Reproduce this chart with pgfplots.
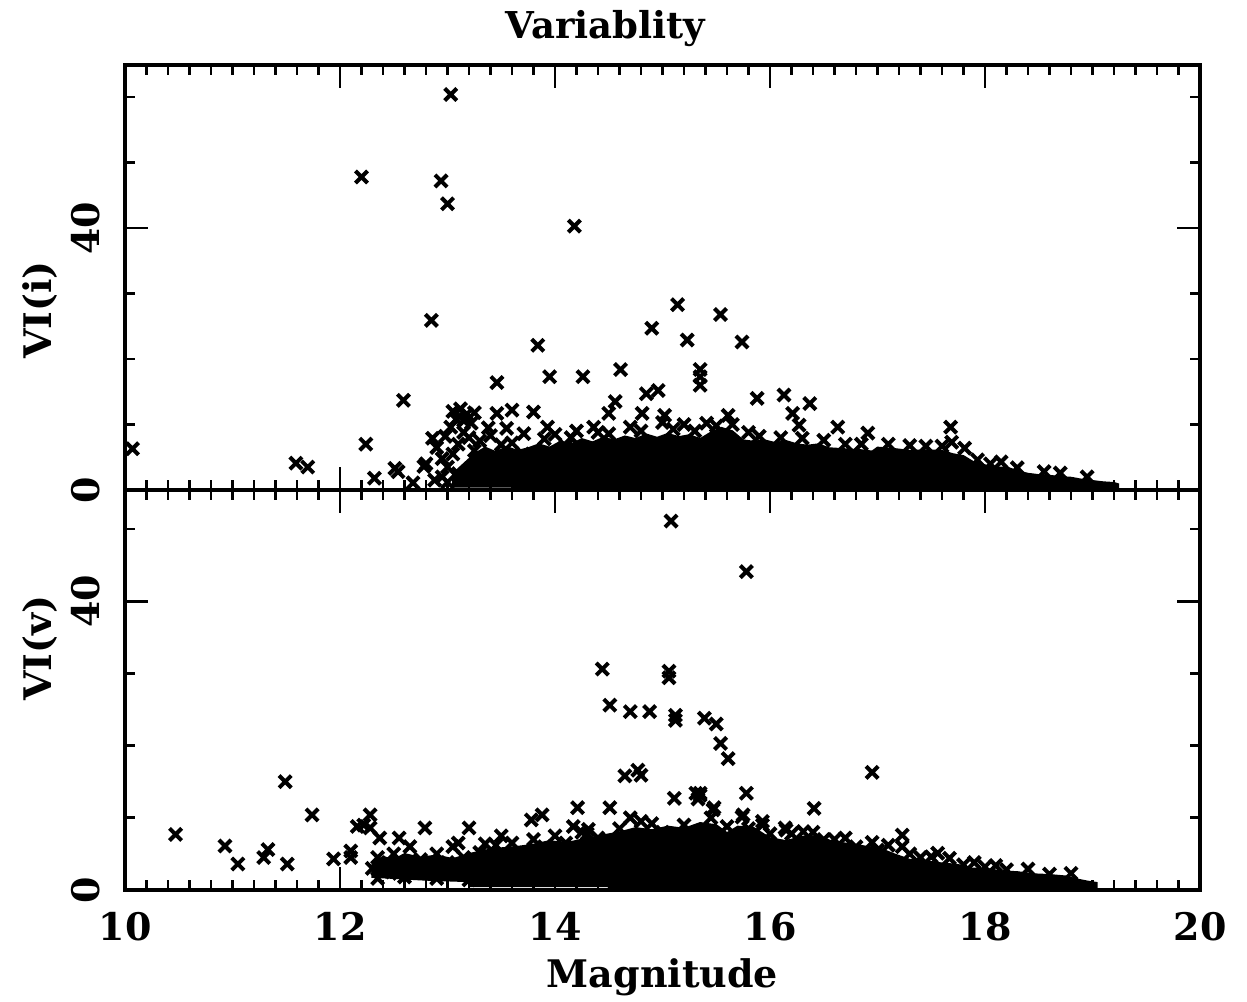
\documentclass[border=0pt]{standalone}
\usepackage{fontspec}
\setmainfont{DejaVu Serif}
\usepackage{pgfplots}
\pgfplotsset{compat=1.18}
\newcommand{\lblfont}{\fontsize{19}{22}\selectfont\bfseries}
\begin{document}
\begin{tikzpicture}
\path[use as bounding box] (-62.5pt,32.5pt) rectangle (561pt,-468pt);
\pgfplotsset{
  panel/.style={
    scale only axis, width=537.5pt, xmin=10, xmax=20,
    xtick={10,12,...,20}, minor x tick num=9,
    ytick={0,40},
    major tick length=11.5pt, minor tick length=5pt,
    tick style={line width=1.4pt, black},
    axis line style={line width=1.6pt},
    tick label style={font=\lblfont, inner sep=0pt},
    /pgf/number format/assume math mode=true,
    yticklabel style={rotate=90, anchor=south},
    yticklabel shift=12.5pt,
    xticklabel shift=11pt,
  },
  mk/.style={only marks, mark=x, mark size=4.3pt, line width=2pt, black},
  blob/.style={fill=black, draw=black, line width=0.8pt},
}
% ---------------- top panel ----------------
\begin{axis}[panel, name=top, at={(0,0)}, anchor=north west,
  height=212.5pt, ymin=0, ymax=64.9, minor ytick={10,20,30,50,60},
  xticklabels={}]
\addplot[blob] coordinates {
(13.05,0.5) (13.05,2.5) (13.15,4.0) (13.25,5.5) (13.35,6.5) (13.45,5.8) (13.55,6.6)
(13.65,6.0) (13.75,6.4) (13.85,7.0) (13.95,6.5) (14.05,7.4) (14.15,7.0) (14.25,7.8)
(14.35,7.3) (14.45,8.0) (14.55,7.6) (14.65,8.2) (14.75,7.8) (14.85,8.5) (14.95,8.0)
(15.05,8.6) (15.15,8.1) (15.25,8.4) (15.35,7.8) (15.45,8.8) (15.55,9.5) (15.65,9.0)
(15.75,7.6) (15.85,7.4) (15.95,7.6) (16.05,7.2) (16.15,7.5) (16.25,7.0) (16.35,6.8)
(16.45,7.0) (16.55,6.4) (16.65,6.3) (16.75,6.2) (16.85,6.1) (16.95,5.9) (17.0,6.5)
(17.15,6.3) (17.3,6.0) (17.45,6.1) (17.6,6.0) (17.7,5.5) (17.8,5.2) (17.9,4.2)
(18.0,3.8) (18.1,3.4) (18.2,3.5) (18.3,2.9) (18.4,2.5) (18.5,2.3) (18.6,2.2)
(18.7,2.0) (18.8,1.9) (18.9,1.6) (19.0,1.4) (19.1,1.2) (19.2,1.1) (19.24,0.9)
(19.24,0) (13.6,0) (13.6,0.5)
} --cycle;
\addplot[mk] coordinates {
(13.03,60.4) (12.20,47.8) (12.94,47.2) (13.00,43.7) (14.18,40.3) (12.85,25.9)
(15.14,28.3) (15.54,26.8) (14.90,24.7) (15.23,22.9) (15.74,22.6) (13.84,22.1)
(14.61,18.4) (15.35,18.4) (15.35,17.3) (15.35,16.0) (13.95,17.3) (14.26,17.3)
(13.46,16.4) (15.88,14.0) (16.13,14.5) (16.37,13.2) (14.96,15.2) (14.85,14.7)
(12.59,13.7) (14.56,13.5) (14.50,11.7) (14.81,11.7) (15.02,11.4) (13.46,11.7)
(13.60,12.2) (13.80,11.9) (13.11,11.2) (13.15,10.6) (13.03,9.6) (13.22,10.2)
(13.55,9.4) (13.71,8.6) (13.93,9.6) (14.36,9.6) (16.21,11.7) (16.27,9.9)
(16.91,8.7) (17.68,9.6) (17.69,7.3) (17.81,6.4) (17.93,4.6) (16.63,9.6)
(15.41,10.2) (15.61,11.4) (10.07,6.3) (11.59,4.1) (11.70,3.5) (12.24,7.0)
(12.32,1.8) (12.51,3.3) (12.54,2.8) (12.68,1.1) (12.78,3.6) (12.80,4.0)
(12.86,7.9) (12.90,6.5) (12.95,2.0) (13.00,1.2) (12.88,1.5) (13.05,5.5)
(13.10,7.0) (13.20,8.0) (13.25,6.0) (13.30,4.5) (13.40,8.3) (13.50,6.9)
(13.70,5.5) (14.00,8.5) (14.10,6.7) (14.20,9.0) (14.40,8.8) (14.70,9.6)
(15.00,10.3) (15.10,9.3) (15.20,10.0) (15.50,9.8) (15.90,8.2) (16.10,8.0)
(16.50,7.6) (16.70,7.0) (17.10,7.0) (17.45,6.7) (18.05,4.0) (18.30,3.4)
(18.55,2.8) (13.05,12.0) (13.12,12.4) (13.18,11.6) (13.08,10.8) (13.0,3.5)
(13.1,2.5) (12.95,4.8) (13.2,3.0) (13.35,2.0) (13.45,3.5)
(13.3,7.5) (13.6,7.2) (13.9,7.8) (14.15,8.0) (14.5,8.6) (14.8,9.0) (15.3,9.0)
(15.65,10.0) (15.8,8.8) (16.3,7.9) (16.85,7.0) (17.3,6.8) (17.6,6.7) (18.15,4.3)
(18.7,2.6) (18.95,2.0) (13.15,8.8) (13.38,9.5) (12.98,8.2) (13.25,11.8)
};
\coordinate (T) at (rel axis cs:0.447,1);
\coordinate (Li) at (rel axis cs:0,0.4235);
\end{axis}
% ---------------- bottom panel ----------------
\begin{axis}[panel, name=bot, at={(top.south west)}, anchor=north west,
  height=200pt, ymin=0, ymax=55.4, minor ytick={10,20,30,50}]
\addplot[blob] coordinates {
(12.3,1.8) (12.3,3.5) (12.4,4.6) (12.5,4.2) (12.6,5.0) (12.75,4.5) (12.9,4.8)
(13.05,4.3) (13.2,5.0) (13.35,5.5) (13.5,5.8) (13.65,6.0) (13.8,6.3) (13.95,6.8)
(14.1,6.5) (14.25,7.0) (14.45,7.6) (14.6,8.0) (14.75,8.6) (14.9,8.3) (15.05,8.8)
(15.2,8.5) (15.35,9.3) (15.5,9.0) (15.6,7.9) (15.7,8.8) (15.85,8.6) (16.0,7.2)
(16.15,6.8) (16.3,7.4) (16.45,7.5) (16.6,6.6) (16.75,6.4) (16.9,6.0) (17.05,5.6)
(17.15,5.0) (17.3,4.2) (17.45,4.0) (17.6,3.7) (17.75,3.5) (17.85,3.0) (18.0,3.0)
(18.15,2.6) (18.3,2.5) (18.45,2.2) (18.6,2.1) (18.75,1.9) (18.85,1.5) (18.95,1.2)
(19.04,1.0) (19.04,0) (14.5,0) (14.5,0.5) (13.2,0.5) (13.2,1.2) (12.8,1.4)
} --cycle;
\addplot[mk] coordinates {
(15.08,51.1) (15.78,44.1) (14.44,30.6) (15.06,30.3) (15.06,29.4) (14.51,25.6)
(14.70,24.7) (14.88,24.7) (15.12,24.2) (15.12,23.5) (15.39,23.8) (15.50,23.0)
(15.54,20.3) (15.61,18.2) (14.65,15.8) (14.77,16.6) (14.80,15.9) (15.78,13.4)
(11.49,15.0) (11.74,10.4) (10.47,7.7) (10.93,6.1) (11.05,3.6) (11.29,4.5)
(11.33,5.6) (11.51,3.6) (11.94,4.3) (12.10,5.4) (12.10,4.5) (12.16,8.8)
(12.28,10.4) (12.28,8.6) (12.22,9.0) (12.37,7.2) (12.55,7.2) (12.79,8.6)
(13.20,8.6) (13.50,7.5) (13.78,9.7) (13.88,10.4) (14.17,8.8) (14.21,11.4)
(14.31,8.4) (14.51,11.4) (14.70,10.0) (15.11,12.7) (15.31,13.4) (15.35,13.4)
(15.33,12.6) (15.48,11.4) (15.75,10.4) (15.93,9.5) (16.14,8.6) (16.41,11.3)
(16.31,8.1) (16.95,16.3) (15.74,10.1) (15.93,9.0) (16.15,8.3) (16.40,8.0)
(16.60,7.0) (16.95,6.6) (17.23,7.6) (17.23,6.0) (17.56,5.1) (17.67,4.4)
(15.47,11.1) (15.35,13.1)
(12.3,3.0) (12.35,4.5) (12.4,2.5) (12.45,3.8) (12.5,5.0) (12.55,2.3) (12.6,3.5)
(12.65,6.0) (12.7,2.8) (12.75,4.2) (12.85,3.2) (12.9,5.0) (12.95,2.5) (13.0,3.8)
(13.05,6.0) (13.1,2.8) (13.15,4.5) (13.25,3.2) (13.3,5.2) (13.4,4.0) (13.45,6.2)
(13.55,3.5) (13.6,6.5) (13.7,5.0) (13.8,7.0) (13.9,6.0) (14.0,7.5) (14.1,6.5)
(14.3,7.8) (14.4,7.2) (14.6,8.5) (14.9,9.2) (15.0,8.0) (15.2,9.0) (15.6,8.8)
(15.8,8.5) (16.0,7.8) (16.5,7.0) (16.8,6.0) (17.0,5.5) (17.4,4.5) (17.8,3.5)
(18.0,3.2) (18.2,2.8) (18.6,2.2)
(12.35,1.6) (12.6,1.8) (12.9,1.6) (13.2,1.4) (13.1,6.5) (13.35,6.4) (14.25,8.0)
(14.8,9.5) (15.45,10.0) (16.2,7.8) (16.7,7.2) (17.1,6.2) (17.3,5.0) (17.5,4.6)
(17.9,3.8) (18.1,3.4) (18.4,2.9) (18.8,2.3)
};
\coordinate (M) at (rel axis cs:0.5,0);
\coordinate (Lv) at (rel axis cs:0,0.605);
\end{axis}
\node[anchor=base, font=\fontsize{18.5}{22}\selectfont\bfseries] at ([yshift=13pt]T) {Variablity};
\node[rotate=90, font=\lblfont] at ([xshift=-42.5pt]Li) {VI(i)};
\node[rotate=90, font=\lblfont] at ([xshift=-42.5pt]Lv) {VI(v)};
\node[anchor=base, font=\lblfont] at ([yshift=-48.5pt]M) {Magnitude};
\end{tikzpicture}
\end{document}
